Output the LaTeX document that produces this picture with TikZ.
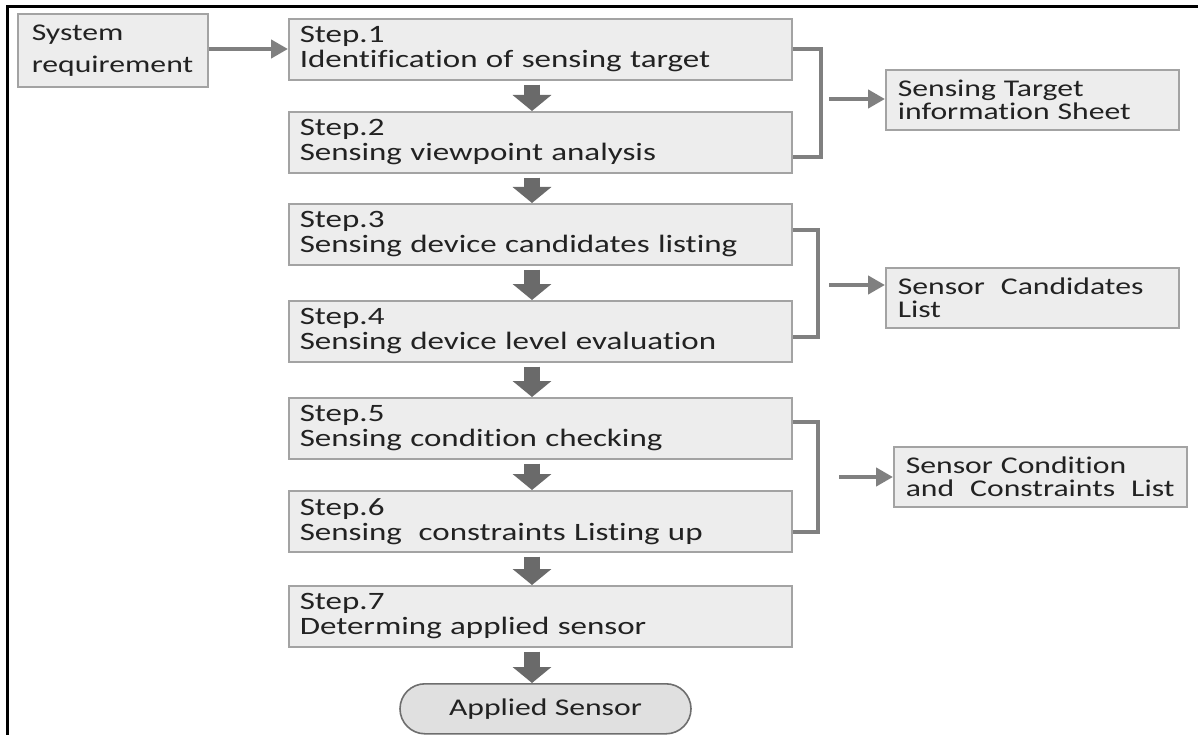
\documentclass[tikz,border=0pt]{standalone}
\usepackage{fontspec}
\setmainfont[FakeStretch=1.32,Ligatures={NoCommon}]{Carlito}
\usetikzlibrary{arrows.meta,shapes.misc}

\definecolor{boxfill}{HTML}{EDEDED}
\definecolor{boxline}{HTML}{A3A3A3}
\definecolor{linkgray}{HTML}{808080}
\definecolor{blockgray}{HTML}{6A6A6A}
\definecolor{pillfill}{HTML}{E0E0E0}
\definecolor{pillline}{HTML}{6E6E6E}
\definecolor{ink}{HTML}{222222}

\newcommand\nobreaks{\hyphenpenalty=10000\exhyphenpenalty=10000\relax}

\tikzset{
  stepbox/.style={rectangle, draw=boxline, fill=boxfill, line width=1.6bp,
    anchor=north west, minimum width=503bp, minimum height=61bp,
    text width=481bp, inner xsep=11bp, inner ysep=0pt, align=left,
    text=ink, font=\fontsize{25bp}{25bp}\selectfont\nobreaks},
  outbox/.style={stepbox, minimum width=293bp, minimum height=60bp,
    text width=269bp, inner xsep=12bp,
    font=\fontsize{24bp}{23bp}\selectfont\nobreaks},
  sysbox/.style={stepbox, minimum width=190bp, minimum height=73bp,
    text width=162bp, inner xsep=14bp,
    font=\fontsize{24bp}{32bp}\selectfont\nobreaks},
  pillbox/.style={rounded rectangle, draw=pillline, fill=pillfill,
    line width=1.6bp, anchor=north, minimum width=291bp,
    minimum height=50bp, inner sep=0pt, text=ink,
    font=\fontsize{24bp}{25bp}\selectfont},
  flowarrow/.style={draw=blockgray, line width=16bp,
    -{Triangle[width=38bp,length=16bp]}},
  link/.style={draw=linkgray, line width=4.5bp},
  linkarrow/.style={link, -{Triangle[width=18bp,length=17bp]}},
}

\begin{document}
\begin{tikzpicture}[x=1bp,y=-1bp]
  \useasboundingbox (0,0) rectangle (1198,735);
  \fill[white] (0,0) rectangle (1198,735);
  % frame along the top and left
  \draw[line width=3bp] (7,735) -- (7,7) -- (1198,7);

  % input
  \node[sysbox] (sys) at (17,13) {System\\requirement};

  % steps
  \node[stepbox] (s1) at (288,18)  {Step.1\\Identification of sensing target};
  \node[stepbox] (s2) at (288,111) {Step.2\\Sensing viewpoint analysis};
  \node[stepbox] (s3) at (288,203) {Step.3\\Sensing device candidates listing};
  \node[stepbox] (s4) at (288,300) {Step.4\\Sensing device level evaluation};
  \node[stepbox] (s5) at (288,397) {Step.5\\Sensing condition checking};
  \node[stepbox] (s6) at (288,490) {Step.6\\Sensing~~constraints Listing up};
  \node[stepbox] (s7) at (288,585) {Step.7\\Determing applied sensor};
  \node[pillbox] (app) at (545.5,683) {Applied Sensor};

  % outputs
  \node[outbox] (o1) at (885,69)  {Sensing Target\\information Sheet};
  \node[outbox] (o2) at (885,267) {Sensor~~Candidates\\List};
  \node[outbox] (o3) at (893,446) {Sensor Condition\\and~~Constraints~~List};

  % input arrow
  \draw[linkarrow] (sys.east |- 0,49) -- (s1.west |- 0,49);

  % step-to-step block arrows
  \foreach \a/\b in {s1/s2,s2/s3,s3/s4,s4/s5,s5/s6,s6/s7,s7/app}{
    \draw[flowarrow] ([yshift=-4bp]\a.south -| 532,0) -- (\b.north -| 532,0);
  }

  % brackets grouping steps
  \coordinate (b1t) at (821,49);  \coordinate (b1b) at (821,157);
  \coordinate (b2t) at (818,230); \coordinate (b2b) at (818,337);
  \coordinate (b3t) at (818,422); \coordinate (b3b) at (818,532);
  \draw[link] (s1.east |- b1t) -- (b1t) -- (b1b) -- (s2.east |- b1b);
  \draw[link] (s3.east |- b2t) -- (b2t) -- (b2b) -- (s4.east |- b2b);
  \draw[link] (s5.east |- b3t) -- (b3t) -- (b3b) -- (s6.east |- b3b);

  % bracket-to-output arrows
  \coordinate (a1) at (829,99);
  \coordinate (a2) at (829,285);
  \coordinate (a3) at (839,477);
  \draw[linkarrow] (a1) -- (o1.west |- a1);
  \draw[linkarrow] (a2) -- (o2.west |- a2);
  \draw[linkarrow] (a3) -- (o3.west |- a3);
\end{tikzpicture}
\end{document}
